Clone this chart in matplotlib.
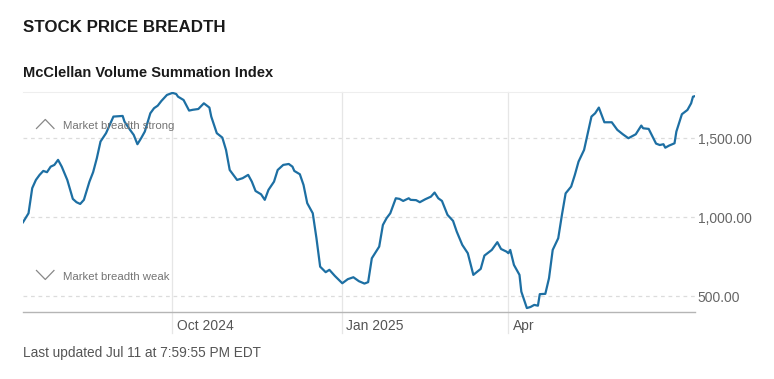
import pandas as pd
import matplotlib
matplotlib.use("Agg")
import matplotlib.pyplot as plt
from matplotlib.transforms import ScaledTranslation

# ── Données ──────────────────────────────────────────────────
dates = [
    "2024-07-12", "2024-07-15", "2024-07-17", "2024-07-19", "2024-07-21",
    "2024-07-23", "2024-07-25", "2024-07-27", "2024-07-29", "2024-07-31",
    "2024-08-02", "2024-08-05", "2024-08-08", "2024-08-10", "2024-08-12",
    "2024-08-14", "2024-08-17", "2024-08-19", "2024-08-21", "2024-08-23",
    "2024-08-26", "2024-08-30", "2024-09-04", "2024-09-05", "2024-09-08",
    "2024-09-10", "2024-09-12", "2024-09-14", "2024-09-16", "2024-09-19",
    "2024-09-21", "2024-09-23", "2024-09-25", "2024-09-28", "2024-10-01",
    "2024-10-03", "2024-10-04", "2024-10-07", "2024-10-10", "2024-10-12",
    "2024-10-15", "2024-10-18", "2024-10-21", "2024-10-22", "2024-10-25",
    "2024-10-28", "2024-10-30", "2024-11-01", "2024-11-05", "2024-11-08",
    "2024-11-11", "2024-11-13", "2024-11-15", "2024-11-18", "2024-11-20",
    "2024-11-22", "2024-11-25", "2024-11-27", "2024-11-30", "2024-12-03",
    "2024-12-05", "2024-12-06", "2024-12-09", "2024-12-11", "2024-12-13",
    "2024-12-16", "2024-12-18", "2024-12-20", "2024-12-23", "2024-12-25",
    "2024-12-28", "2025-01-01", "2025-01-04", "2025-01-07", "2025-01-10",
    "2025-01-13", "2025-01-15", "2025-01-17", "2025-01-21", "2025-01-23",
    "2025-01-25", "2025-01-27", "2025-01-30", "2025-02-01", "2025-02-03",
    "2025-02-06", "2025-02-07", "2025-02-10", "2025-02-12", "2025-02-15",
    "2025-02-18", "2025-02-20", "2025-02-22", "2025-02-24", "2025-02-27",
    "2025-03-02", "2025-03-04", "2025-03-07", "2025-03-10", "2025-03-13",
    "2025-03-17", "2025-03-19", "2025-03-23", "2025-03-26", "2025-03-28",
    "2025-03-31", "2025-04-01", "2025-04-02", "2025-04-04", "2025-04-07",
    "2025-04-08", "2025-04-11", "2025-04-13", "2025-04-15", "2025-04-17",
    "2025-04-18", "2025-04-21", "2025-04-23", "2025-04-25", "2025-04-28",
    "2025-04-30", "2025-05-02", "2025-05-05", "2025-05-07", "2025-05-09",
    "2025-05-12", "2025-05-14", "2025-05-16", "2025-05-18", "2025-05-20",
    "2025-05-23", "2025-05-27", "2025-05-30", "2025-06-02", "2025-06-05",
    "2025-06-09", "2025-06-12", "2025-06-13", "2025-06-16", "2025-06-20",
    "2025-06-22", "2025-06-24", "2025-06-25", "2025-06-27", "2025-06-30",
    "2025-07-01", "2025-07-04", "2025-07-07", "2025-07-09", "2025-07-10",
    "2025-07-11",
]
values = [
    968, 1025, 1184, 1236, 1268,
    1293, 1285, 1320, 1331, 1363,
    1320, 1236, 1116, 1095, 1084,
    1110, 1225, 1285, 1373, 1479,
    1532, 1637, 1641, 1605, 1553,
    1521, 1462, 1500, 1542, 1658,
    1690, 1706, 1736, 1774, 1787,
    1780, 1763, 1742, 1675, 1680,
    1685, 1721, 1694, 1637, 1532,
    1504, 1426, 1299, 1236, 1247,
    1268, 1225, 1166, 1145, 1110,
    1173, 1225, 1299, 1331, 1337,
    1320, 1293, 1272, 1204, 1089,
    1025, 867, 687, 652, 667,
    628, 582, 608, 620, 595,
    580, 589, 740, 814, 951,
    994, 1025, 1120, 1116, 1103,
    1120, 1110, 1108, 1095, 1114,
    1130, 1156, 1120, 1103, 1015,
    977, 909, 825, 772, 635,
    673, 757, 793, 842, 799,
    782, 772, 793, 698, 635,
    529, 425, 432, 445, 440,
    513, 515, 614, 793, 867,
    1015, 1151, 1194, 1268, 1352,
    1426, 1532, 1637, 1658, 1694,
    1601, 1601, 1553, 1525, 1500,
    1525, 1580, 1563, 1559, 1466,
    1457, 1462, 1440, 1453, 1468,
    1542, 1652, 1679, 1721, 1763,
    1766,
]

y_ticks = [500, 1000, 1500]
x_tick_dates = ["2024-10-01", "2025-01-01", "2025-04-01"]
x_tick_labels = ["Oct 2024", "Jan 2025", "Apr"]

title = "STOCK PRICE BREADTH"
subtitle = "McClellan Volume Summation Index"
note_strong = "Market breadth strong"
note_weak = "Market breadth weak"
footer = "Last updated Jul 11 at 7:59:55 PM EDT"

# ── Style ────────────────────────────────────────────────────
LINE = "#1d6fa3"
GRID = "#dcdcdc"
TXT = "#666666"
plt.rcParams["font.family"] = ["Liberation Sans", "DejaVu Sans"]

x = pd.to_datetime(dates)
xt = pd.to_datetime(x_tick_dates)

fig = plt.figure(figsize=(7.74, 3.79), dpi=100)
ax = fig.add_axes([0.0297, 0.1776, 0.868, 0.579])

ax.plot(x, values, color=LINE, lw=1.6, zorder=3, solid_joinstyle="round")
ax.set_xlim(x[0], x[-1])
ax.set_ylim(402, 1791)

# grille horizontale pointillée
for v in y_ticks:
    ax.axhline(v, color=GRID, lw=0.9, ls=(0, (3, 3)), zorder=1)
# grille verticale (déborde sous l'axe)
for d in xt:
    ax.axvline(d, ymin=-0.097, ymax=1, color="#e6e6e6", lw=0.9,
               clip_on=False, zorder=1)

# axes
for s in ["left", "right"]:
    ax.spines[s].set_visible(False)
ax.spines["top"].set_color("#eeeeee")
ax.spines["top"].set_linewidth(0.8)
ax.spines["bottom"].set_color("#b5b5b5")
ax.spines["bottom"].set_linewidth(1.0)

ax.yaxis.tick_right()
ax.set_yticks(y_ticks)
ax.set_yticklabels([f"{v:,.2f}" for v in y_ticks], fontsize=10, color=TXT)
ax.tick_params(axis="y", length=0, pad=2)
ax.set_xticks([])

off = ScaledTranslation(3 / 72, 0, fig.dpi_scale_trans)
for d, lab in zip(xt, x_tick_labels):
    ax.text(d, -0.065, lab, transform=ax.get_xaxis_transform() + off,
            ha="left", va="center", fontsize=10, color="#555555")

# annotations fort / faible
ax.plot([0.0201, 0.0332, 0.0461], [0.835, 0.876, 0.835],
        transform=ax.transAxes, color="#888888", lw=0.9, zorder=4)
ax.plot([0.0201, 0.0332, 0.0461], [0.1878, 0.1468, 0.1878],
        transform=ax.transAxes, color="#888888", lw=0.9, zorder=4)
ax.text(0.060, 0.846, note_strong, transform=ax.transAxes, fontsize=8.2,
        color="#747474", va="center", ha="left", zorder=5)
ax.text(0.060, 0.160, note_weak, transform=ax.transAxes, fontsize=8.2,
        color="#747474", va="center", ha="left", zorder=5)

# titres
fig.text(23 / 774, 1 - 28 / 379, title, fontsize=12.2, fontweight="bold",
         color="#1a1a1a", va="center", ha="left")
fig.text(23 / 774, 1 - 73 / 379, subtitle, fontsize=10.5, fontweight="bold",
         color="#1a1a1a", va="center", ha="left")
fig.text(23 / 774, 1 - 353 / 379, footer, fontsize=9.8, color="#555555",
         va="center", ha="left")

fig.savefig("out.png", dpi=100)
